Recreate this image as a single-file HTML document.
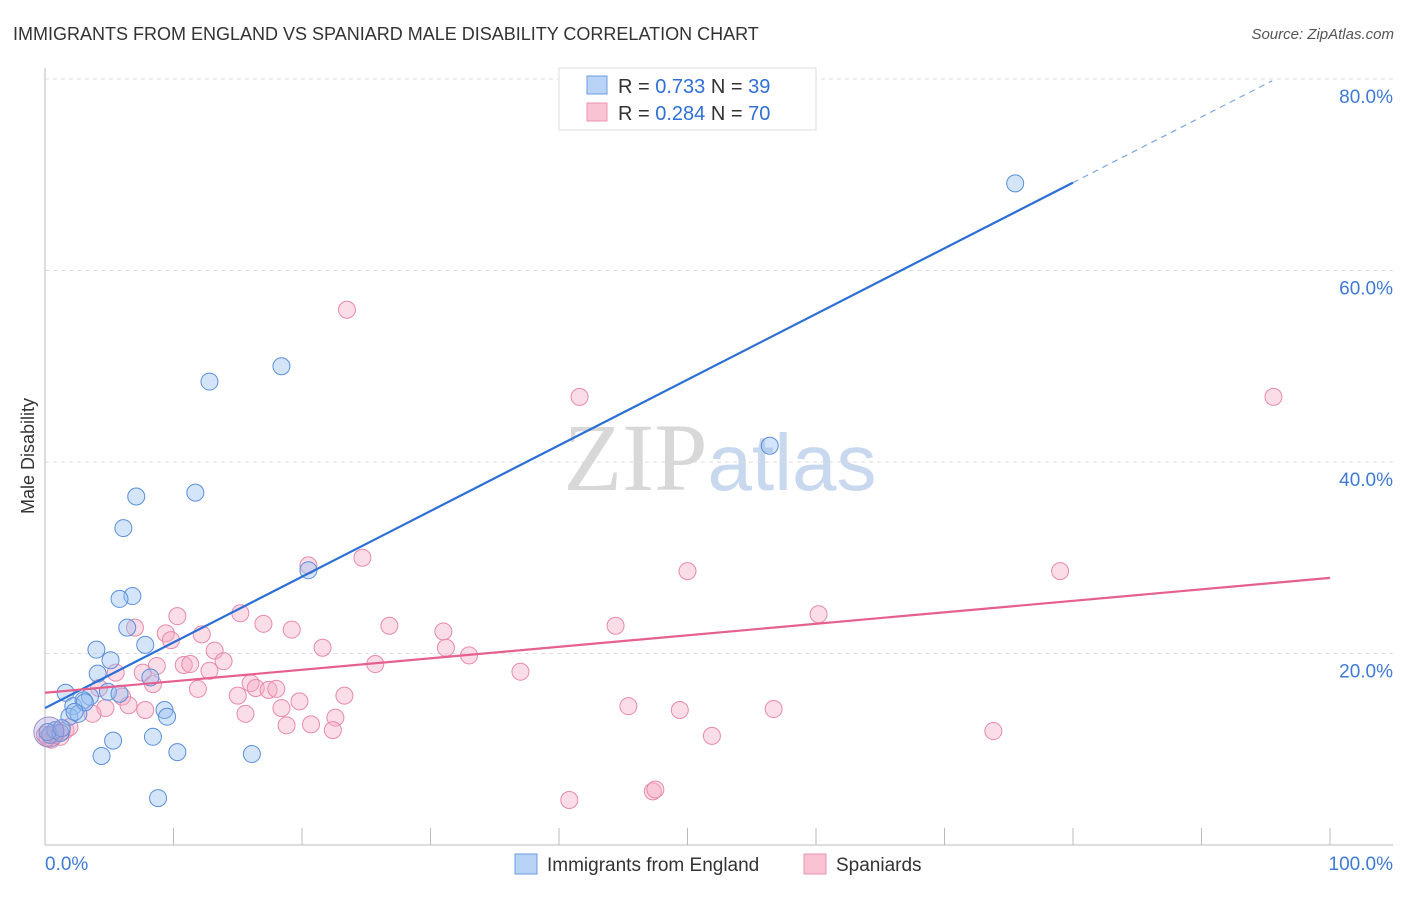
<!DOCTYPE html>
<html><head><meta charset="utf-8"><style>
body{margin:0;background:#fff;font-family:"Liberation Sans",sans-serif}
svg text{font-family:"Liberation Sans",sans-serif}
</style></head><body>
<svg id="chart" width="1406" height="892" xmlns="http://www.w3.org/2000/svg">
<text x="13" y="40" font-size="18" fill="#333">IMMIGRANTS FROM ENGLAND VS SPANIARD MALE DISABILITY CORRELATION CHART</text>
<text x="1394" y="39" font-size="15" fill="#555" font-style="italic" text-anchor="end">Source: ZipAtlas.com</text>
<text x="720" y="490" font-size="96" text-anchor="middle"><tspan fill="#d8d8d8" font-family="Liberation Serif">ZIP</tspan><tspan fill="#c8d8ef" font-size="80">atlas</tspan></text>
<g id="grid"></g><g id="axes"></g><g id="marks"></g>
<text transform="translate(34,456) rotate(-90)" font-size="18" fill="#333" text-anchor="middle">Male Disability</text>
<g>
<rect x="559" y="68" width="257" height="62" fill="#fff" stroke="#ddd"/>
<rect x="587" y="76" width="20" height="18" fill="#b9d3f6" stroke="#6c9de0"/>
<rect x="587" y="103" width="20" height="18" fill="#f9c3d4" stroke="#ea93b0"/>
<text x="618" y="93" font-size="20" fill="#333">R = <tspan fill="#2f6fd6">0.733</tspan>   N = <tspan fill="#2f6fd6">39</tspan></text>
<text x="618" y="120" font-size="20" fill="#333">R = <tspan fill="#2f6fd6">0.284</tspan>   N = <tspan fill="#2f6fd6">70</tspan></text>
</g>
<g>
<rect x="515" y="854" width="22" height="20" fill="#b9d3f6" stroke="#6c9de0"/>
<text x="547" y="871" font-size="19" fill="#333">Immigrants from England</text>
<rect x="804" y="854" width="22" height="20" fill="#f9c3d4" stroke="#ea93b0"/>
<text x="836" y="871" font-size="19" fill="#333">Spaniards</text>
</g>
</svg>
<script>
const yTicks=[20,40,60,80];
const yTickLabels=["20.0%","40.0%","60.0%","80.0%"];
const xEndLabels=["0.0%","100.0%"];
const blueX=[75.5,18.4,12.8,56.4,7.1,11.7,6.1,20.5,6.8,5.8,6.4,7.8,4.0,5.1,4.1,8.2,1.6,3.5,4.9,5.8,2.2,3.0,9.3,9.5,1.9,2.6,5.3,8.4,10.3,4.4,16.1,8.8,0.4,0.8,1.2,0.2,3.1,1.3,2.3];
const blueY=[69.1,50.0,48.4,41.7,36.4,36.8,33.1,28.7,26.0,25.7,22.7,20.9,20.4,19.3,17.9,17.5,15.9,15.5,16.0,15.8,14.5,15.1,14.1,13.4,13.4,13.7,10.9,11.3,9.7,9.3,9.5,4.9,11.5,12.0,11.7,11.8,14.9,12.2,13.9];
const pinkX=[23.5,41.6,95.6,20.5,24.7,50.0,79.0,60.2,10.3,17.0,19.2,26.8,31.0,44.4,7.0,9.4,9.8,12.2,13.2,21.6,31.2,33.0,8.7,10.8,11.3,13.9,12.8,25.7,37.0,5.5,7.6,8.4,16.0,11.9,16.4,17.4,18.0,15.0,6.0,19.8,23.3,4.7,6.5,7.8,18.4,45.4,49.4,56.7,3.7,15.6,22.6,18.8,20.7,22.4,51.9,73.8,40.8,47.3,47.5,4.2,0.0,0.5,0.9,1.6,1.9,0.2,1.2,0.8,1.3,15.2];
const pinkY=[55.9,46.8,46.8,29.2,30.0,28.6,28.6,24.1,23.9,23.1,22.5,22.9,22.3,22.9,22.7,22.1,21.4,22.0,20.3,20.6,20.6,19.8,18.7,18.8,18.9,19.2,18.2,18.9,18.1,18.0,18.0,16.8,16.9,16.3,16.4,16.2,16.3,15.6,15.5,15.0,15.6,14.3,14.6,14.1,14.3,14.5,14.1,14.2,13.7,13.7,13.3,12.5,12.6,12.0,11.4,11.9,4.7,5.6,5.8,16.4,11.5,11.0,11.7,12.0,12.3,11.2,11.3,11.5,11.9,24.2];
const blueTrend=[14.3,0.686];
const pinkTrend=[15.9,0.12];
const X=v=>45+v*12.85, Y=v=>845-v*9.575;
const NS="http://www.w3.org/2000/svg";
function mk(tag,attrs,parent){const e=document.createElementNS(NS,tag);for(const k in attrs)e.setAttribute(k,attrs[k]);parent.appendChild(e);return e;}
const grid=document.getElementById('grid'),axes=document.getElementById('axes'),marks=document.getElementById('marks');
yTicks.forEach((t,i)=>{
 const l=mk('line',{x1:45,x2:1393,y1:Y(t),y2:Y(t),stroke:'#ddd','stroke-dasharray':'4,4'},grid);
 
 
 const tx=mk('text',{x:1393,y:Y(t)+24,'font-size':19,fill:'#3f7ad6','text-anchor':'end'},grid);
 tx.textContent=yTickLabels[i];
 
 
});
let a=mk('line',{x1:45,x2:45,y1:68,y2:845,stroke:'#bbb'},axes);


a=mk('line',{x1:45,x2:1393,y1:845,y2:845,stroke:'#bbb'},axes);


for(let i=1;i<=10;i++){const t=mk('line',{x1:X(i*10),x2:X(i*10),y1:828,y2:845,stroke:'#bbb'},axes);
 
 }
[[0,'start',45],[100,'end',1393]].forEach((d,i)=>{const t=mk('text',{x:d[2],y:870,'font-size':19,fill:'#3f7ad6','text-anchor':d[1]},axes);t.textContent=xEndLabels[i];
 
 });
function dots(xs,ys,fill,stroke,name){xs.forEach((x,i)=>{const c=mk('circle',{cx:X(x),cy:Y(ys[i]),r:8.5,fill:fill,stroke:stroke,'stroke-width':1},marks);
 
 });}
dots(pinkX,pinkY,'rgba(246,170,196,0.4)','#e88aa9','spaniard-point');
dots(blueX,blueY,'rgba(150,190,240,0.4)','#5a8fdb','england-point');
let big=mk('circle',{cx:X(0.3),cy:Y(11.8),r:15,fill:'rgba(160,150,210,0.35)',stroke:'#9a8fd0'},marks);


let ln=mk('line',{x1:X(0),y1:Y(blueTrend[0]),x2:X(80),y2:Y(blueTrend[0]+80*blueTrend[1]),stroke:'#2b6fd6','stroke-width':2.2},marks);


ln=mk('line',{x1:X(80),y1:Y(blueTrend[0]+80*blueTrend[1]),x2:X(95.5),y2:Y(blueTrend[0]+95.5*blueTrend[1]),stroke:'#7aa6e6','stroke-width':1.2,'stroke-dasharray':'6,5'},marks);


ln=mk('line',{x1:X(0),y1:Y(pinkTrend[0]),x2:X(100),y2:Y(pinkTrend[0]+100*pinkTrend[1]),stroke:'#e5608d','stroke-width':2.2},marks);


</script>
</body></html>
